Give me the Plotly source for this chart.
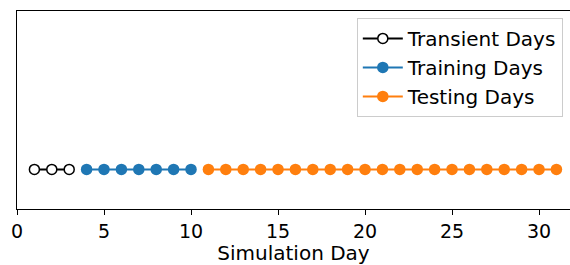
import plotly.graph_objects as go

transient_days = [1, 2, 3]
training_days = [4, 5, 6, 7, 8, 9, 10]
testing_days = list(range(11, 32))
level = 0

fig = go.Figure()
fig.add_trace(go.Scatter(x=transient_days, y=[level]*len(transient_days), mode="lines+markers",
                         name="Transient Days", line=dict(color="black", width=2),
                         marker=dict(size=10, color="white", line=dict(color="black", width=1.5))))
fig.add_trace(go.Scatter(x=training_days, y=[level]*len(training_days), mode="lines+markers",
                         name="Training Days", line=dict(color="#1f77b4", width=2),
                         marker=dict(size=11.5, color="#1f77b4")))
fig.add_trace(go.Scatter(x=testing_days, y=[level]*len(testing_days), mode="lines+markers",
                         name="Testing Days", line=dict(color="#ff7f0e", width=2),
                         marker=dict(size=11.5, color="#ff7f0e")))

fig.update_layout(
    width=570, height=265,
    margin=dict(l=17, r=0, t=11, b=56),
    plot_bgcolor="white", paper_bgcolor="white",
    font=dict(family="DejaVu Sans", size=19, color="black"),
    legend=dict(x=0.987, y=0.965, xanchor="right", yanchor="top",
                bordercolor="#cccccc", borderwidth=1, bgcolor="rgba(255,255,255,0.8)",
                font=dict(size=20), itemwidth=40, tracegroupgap=0),
    xaxis=dict(range=[0, 31.78], tickvals=[0, 5, 10, 15, 20, 25, 30],
               ticks="outside", ticklen=5, tickwidth=1, tickcolor="black",
               tickfont=dict(size=19),
               showline=True, linecolor="black", linewidth=1, mirror=True,
               showgrid=False, zeroline=False, automargin=False,
               title=dict(text="Simulation Day", standoff=2, font=dict(size=20))),
    yaxis=dict(range=[-0.2, 0.8], showticklabels=False, ticks="",
               showline=True, linecolor="black", linewidth=1, mirror=False,
               showgrid=False, zeroline=False, automargin=False),
)
fig.write_html("out.html", config={"displayModeBar": False},
               post_script="document.body.style.margin='0';")
